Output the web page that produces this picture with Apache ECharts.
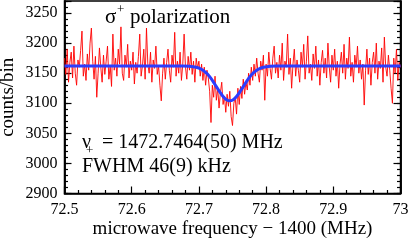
<!DOCTYPE html>
<html><head><meta charset="utf-8">
<script src="https://cdn.jsdelivr.net/npm/echarts@6/dist/echarts.min.js"></script>
<style>html,body{margin:0;padding:0;background:#fff}#c{width:409px;height:240px}</style>
</head><body><div id="c"></div>
<script>
var dataStart = 72.5;
var dataStep = 0.002;
var counts = [
3175,3148,3190,3135,3168,3185,3142,3195,3150,3130,
3172,3160,3188,3220,3145,3165,3138,3182,3155,3200,
3225,3170,3140,3178,3110,3150,3192,3160,3135,3180,
3148,3170,3195,3140,3162,3128,3215,3155,3175,3145,
3190,3165,3227,3150,3138,3180,3160,3198,3142,3170,
3155,3185,3132,3168,3150,3178,3215,3145,3162,3190,
3140,3225,3165,3150,3185,3135,3172,3158,3195,3148,
3162,3130,3104,3150,3175,3140,3168,3190,3155,3135,
3180,3160,3218,3145,3170,3150,3185,3138,3165,3215,
3160,3140,3178,3155,3185,3148,3170,3135,3175,3158,
3170,3145,3165,3138,3160,3130,3155,3142,3120,3068,
3130,3110,3145,3105,3125,3092,3118,3135,3098,3112,
3085,3115,3095,3120,3078,3063,3100,3110,3082,3125,
3098,3128,3108,3140,3115,3135,3122,3150,3130,3160,
3138,3165,3145,3175,3150,3135,3170,3155,3180,3105,
3165,3145,3185,3158,3140,3175,3195,3150,3168,3142,
3180,3155,3200,3138,3170,3160,3215,3148,3175,3125,
3165,3190,3145,3172,3155,3135,3185,3160,3198,3140,
3170,3212,3150,3165,3138,3182,3158,3195,3145,3172,
3130,3168,3188,3150,3175,3142,3200,3160,3135,3180,
3155,3190,3145,3170,3125,3165,3185,3150,3198,3140,
3175,3158,3210,3145,3168,3135,3180,3160,3195,3150,
3172,3140,3165,3097,3155,3190,3148,3175,3130,3168,
3185,3150,3200,3140,3170,3158,3192,3135,3210,3160,
3145,3180,3155,3125,3100,3175,3150,3190,3138,3168,
3160
];
// Blue fit curve
var fitFreq = [72.5,72.6,72.676,72.686,72.696,72.701,72.706,72.711,72.716,72.721,72.726,72.731,72.736,72.741,72.746,72.751,72.756,72.761,72.766,72.771,72.776,72.781,72.786,72.791,72.796,72.806,72.816,72.9,73.0];
var fitCounts = [3162,3162,3162,3161.5,3159.8,3158,3154.9,3150.4,3144.2,3136.5,3127.7,3118.9,3111.1,3105.9,3104,3105.9,3111.1,3118.9,3127.7,3136.5,3144.2,3150.4,3154.9,3158,3159.8,3161.5,3162,3162,3162];
// Axis ticks
var yTickValues = [2950,3000,3050,3100,3150,3200,3250];
var yTickLabels = ['2900','3000','3050','3100','3150','3200','3250'];
var xTickValues = [72.5,72.6,72.7,72.8,72.9,73];
var xTickLabels = ['72.5','72.6','72.7','72.8','72.9','73'];
var yMin = 2950, yMax = 3270, xMin = 72.5, xMax = 73;

var redData = counts.map(function(v,i){ return [+(dataStart + i*dataStep).toFixed(4), v]; });
var blueData = fitFreq.map(function(f,i){ return [f, fitCounts[i]]; });

var FONT = '"Liberation Serif","Times New Roman",serif';
function yFmt(v){ var k = yTickValues.indexOf(Math.round(v)); return k>=0 ? yTickLabels[k] : ''; }
function xFmt(v){ for (var k=0;k<xTickValues.length;k++){ if (Math.abs(v-xTickValues[k])<1e-6) return xTickLabels[k]; } return ''; }

function yAx(pos, major, showLabel, extra){
  var o = {
    type:'value', position:pos, min:yMin, max:yMax, interval: major?50:10,
    axisLine:{show:true, lineStyle:{color:'#000', width:1.5}},
    axisTick:{show:true, inside:true, length: major?7:3.5, lineStyle:{color:'#000', width:1.2}},
    axisLabel:{show:showLabel, formatter:yFmt, color:'#000', fontFamily:FONT, fontSize:16, margin:7},
    splitLine:{show:false}
  };
  if (extra) for (var k in extra) o[k]=extra[k];
  return o;
}

var chart = echarts.init(document.getElementById('c'), null, {renderer:'canvas'});
chart.setOption({
  animation:false,
  backgroundColor:'#fff',
  grid:{left:64.5, right:8.5, top:1, bottom:46.5, containLabel:false, outerBoundsMode:'none',
        show:true, borderColor:'#000', borderWidth:1.5},
  xAxis:[{
    type:'value', min:xMin, max:xMax, interval:0.1, position:'bottom',
    axisLine:{show:true, lineStyle:{color:'#000', width:1.5}},
    axisTick:{show:true, inside:true, length:7, lineStyle:{color:'#000', width:1.2}},
    minorTick:{show:true, splitNumber:5, length:3.5, lineStyle:{color:'#000', width:1.2}},
    axisLabel:{formatter:xFmt, color:'#000', fontFamily:FONT, fontSize:16, margin:8},
    splitLine:{show:false}, minorSplitLine:{show:false},
    name:'microwave frequency \u2212 1400 (MHz)', nameLocation:'middle', nameGap:26, nameMoveOverlap:false,
    nameTextStyle:{color:'#000', fontFamily:FONT, fontSize:19}
  }],
  yAxis:[
    yAx('left', true, true, {name:'counts/bin', nameLocation:'middle', nameGap:47, nameMoveOverlap:false,
        nameTextStyle:{color:'#000', fontFamily:FONT, fontSize:19}}),
    yAx('left', false, false),
    yAx('right', true, false),
    yAx('right', false, false)
  ],
  series:[
    {type:'line', data:redData, xAxisIndex:0, yAxisIndex:0, showSymbol:false, symbol:'none',
     lineStyle:{color:'#ff0000', width:0.9}, z:2},
    {type:'line', data:blueData, xAxisIndex:0, yAxisIndex:0, showSymbol:false, symbol:'none', smooth:0.3,
     lineStyle:{color:'#2a3cff', width:3}, z:3}
  ],
  graphic:[
    {type:'text', left:105, top:7, style:{text:'\u03c3', font:'21px '+FONT, fill:'#000'}},
    {type:'text', left:117, top:3, style:{text:'+', font:'13px '+FONT, fill:'#000'}},
    {type:'text', left:130, top:7, style:{text:'polarization', font:'21px '+FONT, fill:'#000'}},
    {type:'text', left:82, top:133, style:{text:'\u03bd', font:'20px '+FONT, fill:'#000'}},
    {type:'text', left:86, top:144, style:{text:'+', font:'13px '+FONT, fill:'#000'}},
    {type:'text', left:97, top:133, style:{text:' = 1472.7464(50) MHz', font:'20px '+FONT, fill:'#000'}},
    {type:'text', left:82, top:157, style:{text:'FWHM 46(9) kHz', font:'20px '+FONT, fill:'#000'}}
  ]
});
</script></body></html>
